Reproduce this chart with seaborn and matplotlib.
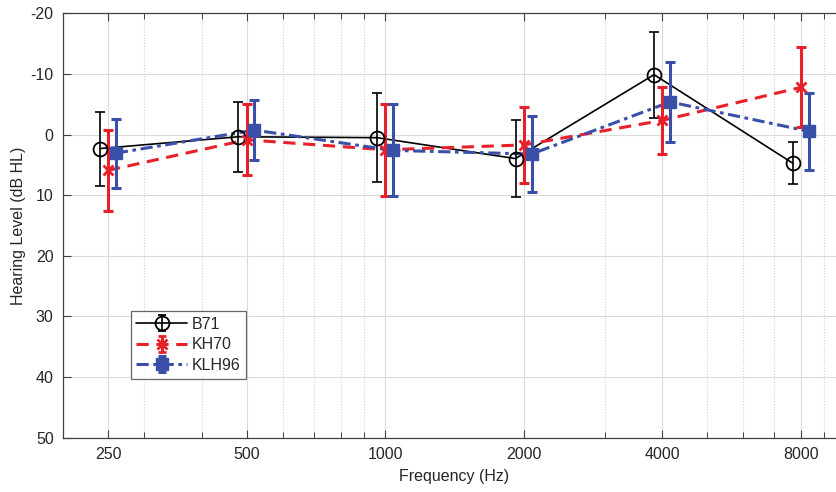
import numpy as np
import pandas as pd
import matplotlib
matplotlib.use("Agg")
import matplotlib.pyplot as plt
import seaborn as sns
from matplotlib.ticker import FixedLocator, NullFormatter, FixedFormatter

# ---- data ----
freqs = [250, 500, 1000, 2000, 4000, 8000]
freq_labels = ["250", "500", "1000", "2000", "4000", "8000"]
b71_mean = [2.3, 0.35, 0.5, 3.95, -9.9, 4.7]
b71_err = [6.1, 5.75, 7.4, 6.35, 7.1, 3.5]
kh70_mean = [5.9, 0.85, 2.5, 1.7, -2.35, -7.8]
kh70_err = [6.7, 5.85, 7.6, 6.3, 5.55, 6.6]
klh96_mean = [3.05, -0.75, 2.6, 3.2, -5.4, -0.55]
klh96_err = [5.7, 4.95, 7.6, 6.3, 6.6, 6.35]
yticks = [-20, -10, 0, 10, 20, 30, 40, 50]

sns.set_style("white")
plt.rcParams['font.family'] = ['Liberation Sans', 'DejaVu Sans']

fig = plt.figure(figsize=(8.37, 4.92), dpi=100)
ax = fig.add_axes([63.4 / 837, (492 - 437.5) / 492, 782 / 837, 424 / 492])

red = "#e8202a"
blue = "#3a4fa8"
series = [
    ("B71", b71_mean, b71_err, 0.96, dict(color="black", ls="-", lw=1.2, marker="o",
                                         ms=10, mfc="none", mec="black", mew=1.3), 1.2),
    ("KH70", kh70_mean, kh70_err, 1.0, dict(color=red, ls=(0, (4, 2.5)), lw=2.2, marker="x",
                                            ms=7, mec=red, mew=2.0), 2.2),
    ("KLH96", klh96_mean, klh96_err, 1.04, dict(color=blue, ls=(0, (4, 1.5, 1.2, 1.5)), lw=2.2,
                                                marker="s", ms=9, mfc=blue, mec=blue), 2.2),
]

frames = []
for name, m, e, shift, _, _ in series:
    frames.append(pd.DataFrame({"x": np.array(freqs) * shift, "y": m, "s": name}))
df = pd.concat(frames)

handles = []
for name, m, e, shift, st, elw in series:
    sub = df[df.s == name]
    sns.lineplot(data=sub, x="x", y="y", ax=ax, legend=False, color=st["color"],
                 linestyle=st["ls"], linewidth=st["lw"], marker=None, sort=False)
    ax.errorbar(sub.x, sub.y, yerr=e, fmt="none", ecolor=st["color"],
                elinewidth=elw, capsize=3.5, capthick=elw, zorder=3)
    kw = {k: v for k, v in st.items() if k not in ("color", "ls", "lw")}
    ax.plot(sub.x, sub.y, linestyle="none", zorder=4, **kw)
    hh = ax.errorbar([np.nan], [np.nan], yerr=[1], color=st["color"], linestyle=st["ls"],
                     linewidth=st["lw"], elinewidth=elw, capsize=3, capthick=elw, label=name, **kw)
    handles.append(hh)

ax.set_xscale("log")
ax.set_xlim(200, 10000)
ax.set_ylim(50, -20)
ax.xaxis.set_major_locator(FixedLocator(freqs))
ax.xaxis.set_major_formatter(FixedFormatter(freq_labels))
minors = [300, 400, 600, 700, 800, 900, 3000, 5000, 6000, 7000, 9000]
ax.xaxis.set_minor_locator(FixedLocator(minors))
ax.xaxis.set_minor_formatter(NullFormatter())
ax.set_yticks(yticks)
ax.set_yticklabels([str(t) for t in yticks])

ax.grid(True, which="major", color="#dcdcdc", lw=0.8, ls="-")
ax.grid(True, which="minor", axis="x", color="#d0d0d0", lw=0.8, ls=(0, (1, 1.5)))
ax.set_axisbelow(True)

for sp in ax.spines.values():
    sp.set_color("#404040")
    sp.set_linewidth(0.9)
ax.spines["right"].set_visible(False)
ax.tick_params(which="major", direction="in", length=6, width=0.8, color="#404040",
               labelsize=11.5, top=True, left=True, bottom=True, right=False, pad=7)
ax.tick_params(which="minor", direction="in", length=4, width=0.7, color="#404040",
               top=True, bottom=True)

ax.set_xlabel("Frequency (Hz)", fontsize=11.5, labelpad=5)
ax.set_ylabel("Hearing Level (dB HL)", fontsize=11.5, labelpad=3)

leg = ax.legend(handles=handles, labels=[s[0] for s in series], loc="upper left",
                bbox_to_anchor=(0.086, 0.298), fontsize=11.5, frameon=True, fancybox=False,
                borderaxespad=0, handlelength=3.2, handletextpad=0.3, labelspacing=0.35,
                borderpad=0.35)
leg.get_frame().set_edgecolor("#404040")
leg.get_frame().set_linewidth(0.9)

fig.savefig("out.png", dpi=100)
